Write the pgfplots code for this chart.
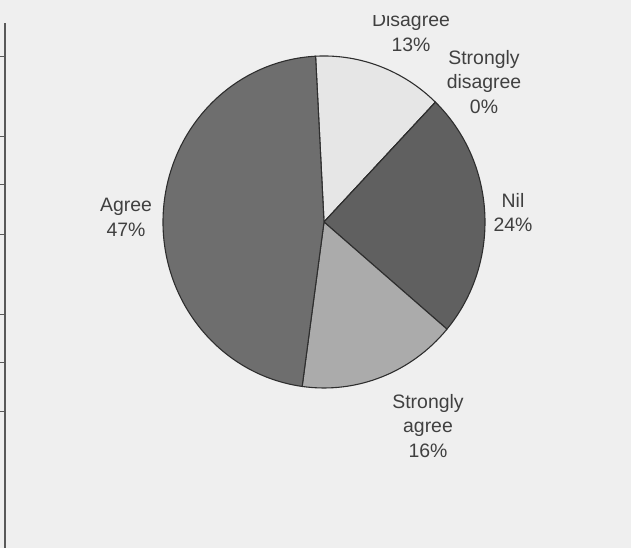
\documentclass[border=0pt]{standalone}
\usepackage{pgfplots}
\usepackage{pgfplotstable}
\pgfplotsset{compat=1.18}
\usepackage{fontspec}
\setmainfont{Liberation Sans}
\definecolor{bg}{HTML}{EFEFEF}
\definecolor{cDis}{HTML}{E6E6E6}
\definecolor{cSD}{HTML}{8A8A8A}
\definecolor{cNil}{HTML}{606060}
\definecolor{cSA}{HTML}{ABABAB}
\definecolor{cAg}{HTML}{6E6E6E}
\definecolor{pieedge}{HTML}{2E2E2E}
\definecolor{txt}{HTML}{404040}
\pgfplotstableread{
label value color
Disagree 13 cDis
StronglyDisagree 0 cSD
Nil 24 cNil
StronglyAgree 16 cSA
Agree 47 cAg
}\piedata
\begin{document}
\begin{tikzpicture}[x=1bp,y=1bp]
\useasboundingbox (0,0) rectangle (631,548);
\clip (0,0) rectangle (631,548);
\fill[bg] (0,0) rectangle (631,548);
\begin{axis}[
  at={(0,0)}, anchor=origin,
  scale only axis, width=631bp, height=548bp,
  xmin=0, xmax=631, ymin=0, ymax=548,
  axis lines=none, clip=false,
]
\def\startang{93}
\pgfplotsforeachungrouped \i in {0,...,4}{%
  \pgfplotstablegetelem{\i}{value}\of\piedata \let\val\pgfplotsretval
  \pgfplotstablegetelem{\i}{color}\of\piedata \let\col\pgfplotsretval
  \pgfmathsetmacro\endang{\startang-3.6*\val}%
  \pgfmathsetmacro\sx{161*cos(\startang)}%
  \pgfmathsetmacro\sy{166*sin(\startang)}%
  \edef\cmd{\noexpand\filldraw[fill=\col,draw=pieedge,line width=1.1pt,line join=round]
    (axis cs:324,326) -- ++(axis direction cs:\sx,\sy)
    arc[start angle=\startang,end angle=\endang,x radius=161,y radius=166] -- cycle;}%
  \cmd
  \global\let\startang\endang
}
\tikzset{lab/.style={align=center,text=txt,font=\fontsize{19.5}{25}\selectfont,inner sep=0pt}}
\node[lab] at (axis cs:411,515.5) {Disagree\\13\%};
\node[lab] at (axis cs:484,466) {Strongly\\disagree\\0\%};
\node[lab] at (axis cs:513,335.5) {Nil\\24\%};
\node[lab] at (axis cs:428,122) {Strongly\\agree\\16\%};
\node[lab] at (axis cs:126,330.5) {Agree\\47\%};
\end{axis}
% scan artefacts: cut top strip and table border at the left
\fill[bg] (0,533) rectangle (631,548);
\draw[line width=1.3pt,color=black!65] (5,0) -- (5,525);
\foreach \t in {57,137,185,235,315,363,412}{\draw[line width=1pt,color=black!65] (0,548-\t) -- (5,548-\t);}
\end{tikzpicture}
\end{document}
